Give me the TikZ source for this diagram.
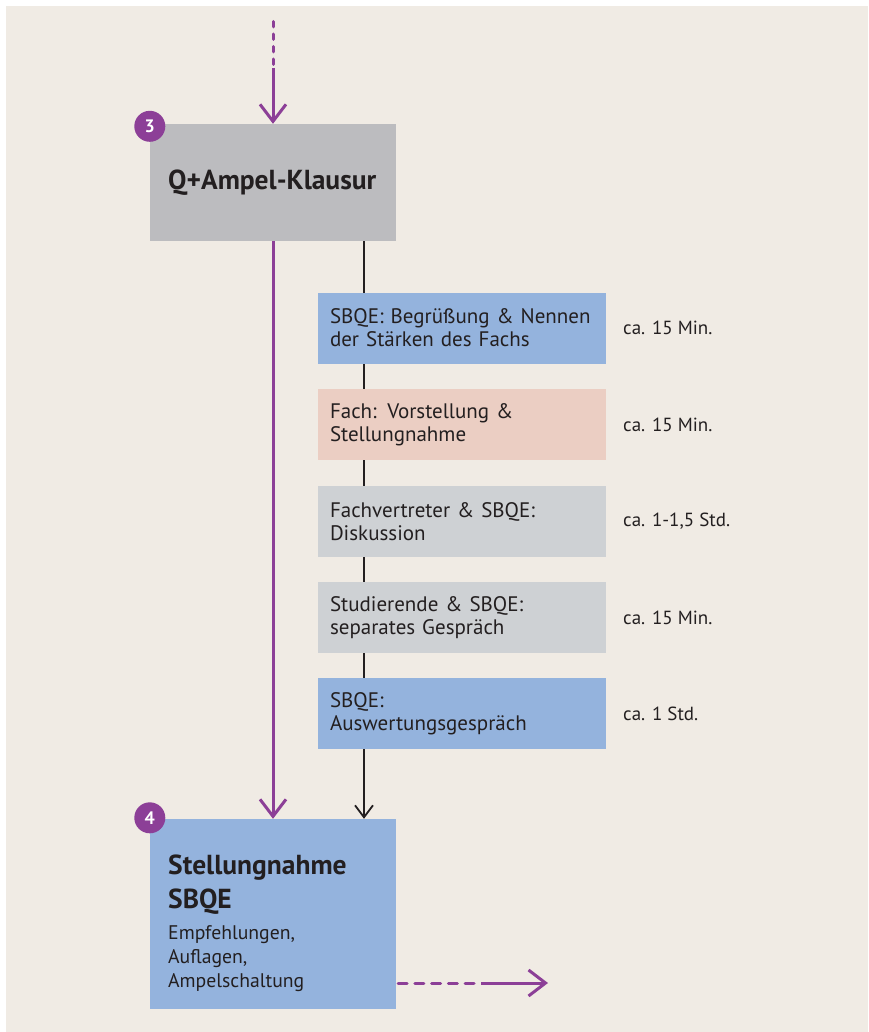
\documentclass[tikz,border=0pt]{standalone}
\usepackage{fontspec}
\setmainfont{PT Sans}
\usetikzlibrary{arrows.meta,calc}

\definecolor{paper}{HTML}{F0EBE4}
\definecolor{klausurgray}{HTML}{BCBCBF}
\definecolor{sbqeblue}{HTML}{94B3DD}
\definecolor{fachrose}{HTML}{EBCEC3}
\definecolor{talkgray}{HTML}{CED1D4}
\definecolor{flowpurple}{HTML}{8C3F97}
\definecolor{ink}{HTML}{231F20}

\tikzset{
  phasebox/.style={rectangle, inner sep=0pt, minimum width=246pt, minimum height=117pt},
  stepbox/.style={rectangle, minimum width=288pt, minimum height=71pt, inner xsep=12pt,
    text width=264pt, align=left, text=ink, font=\fontsize{21}{23}\selectfont},
  durlabel/.style={anchor=west, inner sep=0pt, text=ink, font=\fontsize{19}{20}\selectfont},
  badge/.style={circle, fill=flowpurple, minimum size=31pt, inner sep=0pt, text=white,
    font=\fontsize{18}{18}\selectfont\bfseries},
  mainflow/.style={draw=flowpurple, line width=3pt,
    -{Straight Barb[length=17pt, width=26pt, line width=3pt]}},
  subflow/.style={draw=ink, line width=1.8pt,
    -{Straight Barb[length=12pt, width=18pt, line width=1.8pt]}},
  flowdashes/.style={draw=flowpurple, line width=3pt, line cap=round},
}

\begin{document}
\begin{tikzpicture}[x=1pt, y=-1pt]
  \useasboundingbox (0,0) rectangle (868,1032);
  \fill[white] (0,0) rectangle (868,1032);
  \fill[paper] (6,6) rectangle (868,1032);

  % phase 3 and phase 4 blocks
  \node[phasebox, fill=klausurgray] (b3) at (273,182.5) {};
  \node[anchor=base west, inner sep=0pt, text=ink, font=\fontsize{27.5}{27.5}\selectfont\bfseries]
    (b3t) at (168,190) {Q+Ampel-Klausur};

  \node[phasebox, fill=sbqeblue, minimum height=190pt] (b4) at (273,914) {};
  \node[anchor=base west, inner sep=0pt, text=ink, align=left,
    font=\fontsize{27.5}{34}\selectfont\bfseries] (b4t) at (168,908) {Stellungnahme\\SBQE};
  \node[anchor=base west, inner sep=0pt, text=ink, align=left,
    font=\fontsize{19.7}{24}\selectfont] (b4d) at (168,987) {Empfehlungen,\\Auflagen,\\Ampelschaltung};

  \node[badge] (n3) at ($(b3.north west)+(0,2.5)$) {3};
  \node[badge] (n4) at ($(b4.north west)+(0,-1)$) {4};

  % incoming and outgoing flow
  \coordinate (in) at (273,21.5);
  \coordinate (inmid) at (273,68);
  \coordinate (trunk) at (364,0);
  \coordinate (out) at (548,983);
  \coordinate (outmid) at (481,983);

  \draw[flowdashes, dash pattern=on 5.5pt off 7pt] (in) -- (inmid);
  \draw[mainflow] (inmid) -- (b3.north);
  \draw[mainflow] (b3.south) -- (b4.north);
  \draw[subflow] (b3.south -| trunk) -- (b4.north -| trunk);
  \draw[flowdashes, dash pattern=on 9pt off 7.7pt] ($(b4.east |- out)+(2,0)$) -- (outmid);
  \draw[mainflow] (outmid) -- (out);

  % agenda steps of the visit
  \node[stepbox, fill=sbqeblue]  (s1) at (462,328)   {SBQE: Begrüßung \& Nennen\\der Stärken des Fachs};
  \node[stepbox, fill=fachrose]  (s2) at (462,424.5) {Fach: Vorstellung \&\\Stellungnahme};
  \node[stepbox, fill=talkgray]  (s3) at (462,521.5) {Fachvertreter \& SBQE:\\Diskussion};
  \node[stepbox, fill=talkgray]  (s4) at (462,617.5) {Studierende \& SBQE:\\separates Gespräch};
  \node[stepbox, fill=sbqeblue]  (s5) at (462,713.5) {SBQE:\\Auswertungsgespräch};

  \node[durlabel] (d1) at (623,328)   {ca. 15 Min.};
  \node[durlabel] (d2) at (623,424.5) {ca. 15 Min.};
  \node[durlabel] (d3) at (623,521.5) {ca. 1-1,5 Std.};
  \node[durlabel] (d4) at (623,617.5) {ca. 15 Min.};
  \node[durlabel] (d5) at (623,713.5) {ca. 1 Std.};
\end{tikzpicture}
\end{document}
